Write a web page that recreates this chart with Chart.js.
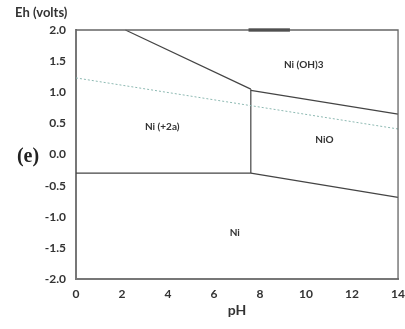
<!DOCTYPE html>
<html>
<head>
<meta charset="utf-8">
<script src="https://cdn.jsdelivr.net/npm/chart.js@4.4.1/dist/chart.umd.min.js"></script>
<style>
  html, body { margin: 0; padding: 0; background: #fff; }
  #wrap { width: 405px; height: 329px; }
</style>
</head>
<body>
<div id="wrap"><canvas id="c" width="405" height="329"></canvas></div>
<script>
// Ni Pourbaix diagram: stability boundaries (pH, Eh in volts)
const xTicks = [0, 2, 4, 6, 8, 10, 12, 14];
const yTicks = [-2.0, -1.5, -1.0, -0.5, 0.0, 0.5, 1.0, 1.5, 2.0];

// Ni(+2a) / Ni(OH)3 boundary
const upperLeftPH = [2.15, 7.6];
const upperLeftEh = [2.0, 1.05];
// Ni(OH)3 / NiO boundary
const upperRightPH = [7.6, 14];
const upperRightEh = [1.03, 0.65];
// Ni(+2a) / NiO boundary
const verticalPH = [7.6, 7.6];
const verticalEh = [1.05, -0.30];
// Ni(+2a) / Ni boundary
const lowerLeftPH = [0, 7.6];
const lowerLeftEh = [-0.30, -0.30];
// NiO / Ni boundary
const lowerRightPH = [7.6, 14];
const lowerRightEh = [-0.30, -0.69];
// O2 / H2O water line
const waterPH = [0, 14];
const waterEh = [1.23, 0.41];
// heavy stroke along the top edge
const topMarkPH = [7.5, 9.3];
const topMarkEh = [2.0, 2.0];

// region labels
const regionNames = ['Ni (OH)3', 'Ni (+2a)', 'NiO', 'Ni'];
const regionPH = [9.9, 3.75, 10.8, 6.9];
const regionEh = [1.44, 0.44, 0.23, -1.26];

const pts = (xs, ys) => xs.map((x, i) => ({ x: x, y: ys[i] }));

const lineDs = (xs, ys, color, width, dash) => ({
  data: pts(xs, ys),
  showLine: true,
  borderColor: color,
  borderWidth: width,
  borderDash: dash || [],
  pointRadius: 0,
  fill: false,
  tension: 0,
  clip: false
});

const textPlugin = {
  id: 'textPlugin',
  afterDraw(chart) {
    const { ctx, chartArea, scales } = chart;
    const xs = scales.x, ys = scales.y;
    ctx.save();
    // frame on top and right
    ctx.strokeStyle = '#666';
    ctx.lineWidth = 1.3;
    ctx.beginPath();
    ctx.moveTo(chartArea.left, chartArea.top);
    ctx.lineTo(chartArea.right, chartArea.top);
    ctx.lineTo(chartArea.right, chartArea.bottom);
    ctx.stroke();

    ctx.fillStyle = '#333';
    ctx.textAlign = 'center';
    ctx.textBaseline = 'middle';
    ctx.font = 'bold 10px Lato, "Open Sans", sans-serif';
    regionNames.forEach((n, i) => {
      ctx.fillText(n, xs.getPixelForValue(regionPH[i]), ys.getPixelForValue(regionEh[i]));
    });

    ctx.font = 'bold 13px Lato, "Open Sans", sans-serif';
    ctx.textAlign = 'left';
    ctx.fillText('Eh (volts)', 15, 13);

    ctx.font = 'bold 14px Lato, "Open Sans", sans-serif';
    ctx.textAlign = 'center';
    ctx.fillText('pH', (chartArea.left + chartArea.right) / 2, 310);

    ctx.font = 'bold 20px "Liberation Serif", "DejaVu Serif", serif';
    ctx.fillStyle = '#222';
    ctx.fillText('(e)', 28, 157);
    ctx.restore();
  }
};

new Chart(document.getElementById('c'), {
  type: 'scatter',
  data: {
    datasets: [
      lineDs(waterPH, waterEh, '#8db9b2', 1, [2, 2]),
      lineDs(upperLeftPH, upperLeftEh, '#444', 1.2),
      lineDs(upperRightPH, upperRightEh, '#444', 1.2),
      lineDs(verticalPH, verticalEh, '#444', 1.2),
      lineDs(lowerLeftPH, lowerLeftEh, '#444', 1.2),
      lineDs(lowerRightPH, lowerRightEh, '#444', 1.2),
      lineDs(topMarkPH, topMarkEh, '#111', 3)
    ]
  },
  options: {
    responsive: false,
    animation: false,
    devicePixelRatio: 1,
    layout: { padding: { top: 30, right: 3, left: 0, bottom: 0 } },
    plugins: { legend: { display: false }, tooltip: { enabled: false } },
    scales: {
      x: {
        type: 'linear',
        min: 0, max: 14,
        afterBuildTicks: (s) => { s.ticks = xTicks.map(v => ({ value: v })); },
        afterFit: (s) => { s.height = 50; },
        grid: { display: false },
        border: { display: true, color: '#777', width: 2 },
        ticks: {
          padding: 0,
          color: '#333',
          font: { family: 'Lato, "Open Sans", sans-serif', size: 12, weight: 'bold' }
        }
      },
      y: {
        type: 'linear',
        min: -2, max: 2,
        afterBuildTicks: (s) => { s.ticks = yTicks.map(v => ({ value: v })); },
        afterFit: (s) => { s.width = 76; },
        grid: { display: false },
        border: { display: true, color: '#777', width: 2 },
        ticks: {
          padding: 2,
          color: '#333',
          font: { family: 'Lato, "Open Sans", sans-serif', size: 12, weight: 'bold' },
          callback: (v) => Number(v).toFixed(1)
        }
      }
    }
  },
  plugins: [textPlugin]
});
</script>
</body>
</html>
